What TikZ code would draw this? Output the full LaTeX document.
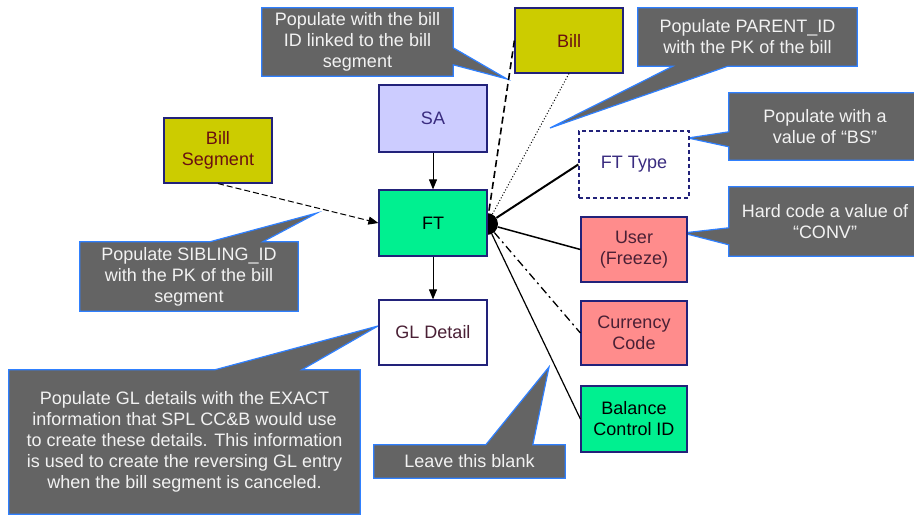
\documentclass[tikz,border=0pt]{standalone}
\usepackage{fontspec}
\setmainfont{Liberation Sans}
\usetikzlibrary{arrows.meta,calc,backgrounds}
\definecolor{cofill}{HTML}{646464}
\definecolor{coedge}{HTML}{2F80FF}
\definecolor{navy}{HTML}{22227A}
\definecolor{olive}{HTML}{CCCC00}
\definecolor{lav}{HTML}{CCCCFF}
\definecolor{mint}{HTML}{00F090}
\definecolor{salmon}{HTML}{FF8C8C}
\definecolor{cotext}{HTML}{F2F2F2}
\definecolor{txtred}{HTML}{6A1010}
\definecolor{txtnavy}{HTML}{3A2C80}
\definecolor{txtdark}{HTML}{4A2035}
\begin{document}
\begin{tikzpicture}[x=1pt,y=-1pt,
  box/.style={draw=navy, line width=1.2pt, minimum width=108pt, minimum height=65pt,
    inner sep=2pt, align=center, font=\fontsize{18}{21}\selectfont},
  ctext/.style={inner sep=0pt, align=center, text=cotext, font=\fontsize{18}{21}\selectfont},
  callout/.style={fill=cofill, draw=coedge, line width=1.2pt, line join=miter},
  arr/.style={-{Triangle[length=10pt,width=8pt]}, line width=1pt},
]
\useasboundingbox (0,0) rectangle (914,516);

% ---------- boxes ----------
\node[box, fill=olive, text=txtred] (bill) at (569,40.5) {Bill};
\node[box, fill=lav, text=txtnavy, minimum height=67pt] (sa) at (433,118.5) {SA};
\node[box, fill=olive, text=txtred] (bseg) at (218,150.5) {Bill\\Segment};
\node[circle, fill=black, minimum size=22pt, inner sep=0pt] (dot) at (487,224) {};
\node[box, fill=mint, text=black, minimum height=66pt] (ft) at (433,223) {FT};
\node[box, fill=white, text=txtdark] (gl) at (433,332.5) {GL Detail};
\node[box, fill=white, text=txtnavy, dash pattern=on 4pt off 3pt, line width=1.4pt,
  minimum width=110pt, minimum height=67pt] (fttype) at (634,164.5) {FT Type};
\node[box, fill=salmon, text=txtdark, minimum width=106pt] (user) at (634,249.5) {User\\(Freeze)};
\node[box, fill=salmon, text=txtdark, minimum width=106pt, minimum height=64pt] (cur) at (634,333) {Currency\\Code};
\node[box, fill=mint, text=black, minimum width=106pt, minimum height=66pt] (bal) at (634,419) {Balance\\Control ID};

% ---------- connectors ----------
\draw[arr] (sa.south) -- (ft.north);
\draw[arr] (ft.south) -- (gl.north);
\draw[arr, dash pattern=on 6pt off 3pt] (bseg.south) -- (ft.west);
\draw[line width=1.6pt, dash pattern=on 7pt off 4pt] (bill.west) -- (dot);
\draw[line width=1pt, dash pattern=on 1pt off 2pt] (bill.south) -- (dot);
\draw[line width=2pt] (dot) -- (fttype.west);
\draw[line width=1.5pt] (dot) -- (user.west);
\draw[line width=1.3pt, dash pattern=on 8pt off 4pt on 2pt off 4pt] (dot) -- (cur.west);
\draw[line width=1.2pt] (dot) -- (bal.west);

% ---------- callout texts ----------
\node[ctext, minimum width=191pt, minimum height=68pt] (cbill) at (357.5,42)
  {Populate with the bill\\ID linked to the bill\\segment};
\node[ctext, minimum width=219pt, minimum height=58pt] (cparent) at (747.5,37)
  {Populate PARENT\_ID\\with the PK of the bill};
\node[ctext, minimum width=192pt, minimum height=67pt] (cbs) at (825,126.5)
  {Populate with a\\value of “BS”};
\node[ctext, minimum width=192pt, minimum height=69pt] (cconv) at (825,221.5)
  {Hard code a value of\\“CONV”};
\node[ctext, minimum width=218pt, minimum height=69pt] (csib) at (189,276.5)
  {Populate SIBLING\_ID\\with the PK of the bill\\segment};
\node[ctext, minimum width=351pt, minimum height=144pt] (cgl) at (184.5,442)
  {Populate GL details with the EXACT\\information that SPL CC\&B would use\\to create these details. This information\\is used to create the reversing GL entry\\when the bill segment is canceled.};
\node[ctext, minimum width=191pt, minimum height=33pt] (cblank) at (469.5,461.5)
  {Leave this blank};

\coordinate (tbill) at (507,79);
\coordinate (tparent) at (550,128);
\coordinate (tbs) at (688,138);
\coordinate (tconv) at (683,233);
\coordinate (tsib) at (317,213);
\coordinate (tgl) at (378,326);
\coordinate (tblank) at (549,367);

% ---------- callout shapes (behind) ----------
\begin{scope}[on background layer]
\fill[white] (0,0) rectangle (914,516);
\draw[callout] (cbill.north west) -- (cbill.north east) -- ($(cbill.north east)+(0,40)$)
  -- (tbill) -- ($(cbill.north east)+(0,57)$) -- (cbill.south east) -- (cbill.south west) -- cycle;
\draw[callout] (cparent.north west) -- (cparent.north east) -- (cparent.south east)
  -- ($(cparent.south west)+(90,0)$) -- (tparent) -- ($(cparent.south west)+(35,0)$)
  -- (cparent.south west) -- cycle;
\draw[callout] (cbs.north west) -- (cbs.north east) -- (cbs.south east) -- (cbs.south west)
  -- ($(cbs.north west)+(0,54)$) -- (tbs) -- ($(cbs.north west)+(0,39)$) -- cycle;
\draw[callout] (cconv.north west) -- (cconv.north east) -- (cconv.south east) -- (cconv.south west)
  -- ($(cconv.north west)+(0,58)$) -- (tconv) -- ($(cconv.north west)+(0,41)$) -- cycle;
\draw[callout] (csib.north west) -- ($(csib.north west)+(130,0)$) -- (tsib)
  -- ($(csib.north west)+(183,0)$) -- (csib.north east) -- (csib.south east) -- (csib.south west) -- cycle;
\draw[callout] (cgl.north west) -- ($(cgl.north west)+(206,0)$) -- (tgl)
  -- ($(cgl.north west)+(293,0)$) -- (cgl.north east) -- (cgl.south east) -- (cgl.south west) -- cycle;
\draw[callout] (cblank.north west) -- ($(cblank.north west)+(112,0)$) -- (tblank)
  -- ($(cblank.north west)+(159,0)$) -- (cblank.north east) -- (cblank.south east) -- (cblank.south west) -- cycle;
\end{scope}
\end{tikzpicture}
\end{document}
